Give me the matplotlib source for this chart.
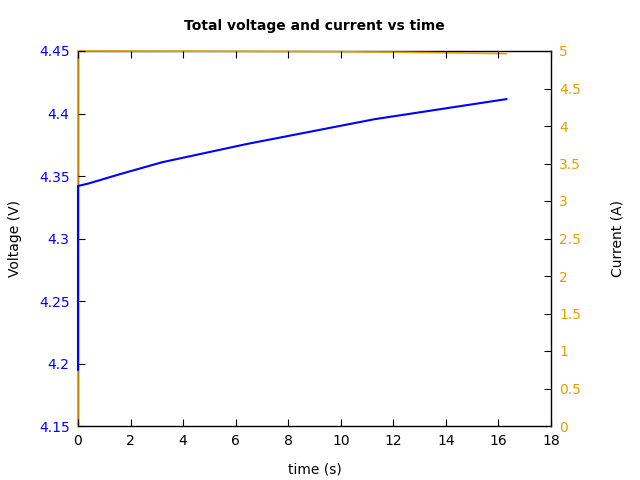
import matplotlib
matplotlib.use('Agg')
import matplotlib.pyplot as plt

# time (s), voltage (V)
t_v = [0.0, 0.0, 0.1, 0.2, 0.4, 0.8, 1.6, 3.2, 6.4, 11.3, 16.3]
volt = [4.195, 4.342, 4.3425, 4.343, 4.344, 4.3465, 4.3515, 4.361, 4.3755, 4.3955, 4.4115]

# time (s), current (A)
t_i = [0.0, 0.0, 4.0, 8.0, 12.0, 16.3]
curr = [0.0, 5.0, 4.998, 4.994, 4.985, 4.965]

blue = '#0000ff'
orange = '#e69f00'

fig = plt.figure(figsize=(6.4, 4.8), dpi=100)
ax = fig.add_axes([78/640, 54/480, 473/640, 375/480])
ax2 = ax.twinx()

ax2.plot(t_i, curr, color=orange, linewidth=1.2, clip_on=False, zorder=3)
ax.plot(t_v, volt, color=blue, linewidth=1.5, clip_on=False, zorder=3)
ax.set_zorder(ax2.get_zorder() + 1)
ax.patch.set_visible(False)

ax.set_xlim(0, 18)
ax.set_ylim(4.15, 4.45)
ax2.set_ylim(0, 5)
ax.set_xticks(range(0, 19, 2))
ax.set_yticks([4.15, 4.2, 4.25, 4.3, 4.35, 4.4, 4.45])
ax.set_yticklabels(['4.15', '4.2', '4.25', '4.3', '4.35', '4.4', '4.45'])
ax2.set_yticks([0, 0.5, 1, 1.5, 2, 2.5, 3, 3.5, 4, 4.5, 5])
ax2.set_yticklabels(['0', '0.5', '1', '1.5', '2', '2.5', '3', '3.5', '4', '4.5', '5'])

ax.tick_params(axis='x', direction='in', top=True, labelsize=10, length=5, pad=6)
ax.tick_params(axis='y', direction='in', labelcolor=blue, labelsize=10, length=5, pad=6)
ax2.tick_params(axis='y', direction='in', labelcolor=orange, labelsize=10, length=5, pad=6)

# border drawn by the lower axes so the curves sit on top of it
for s in ax.spines.values():
    s.set_visible(False)
for s in ax2.spines.values():
    s.set_color('black')
    s.set_linewidth(1.0)

ax.set_title('Total voltage and current vs time', fontsize=10, fontweight='bold', pad=15)
ax.set_xlabel('time (s)', fontsize=10, labelpad=10)
ax.set_ylabel('Voltage (V)', fontsize=10)
ax2.set_ylabel('Current (A)', fontsize=10)
ax.yaxis.set_label_coords(-0.118, 0.5)
ax2.yaxis.set_label_coords(1.125, 0.5)

fig.savefig('out.png', dpi=100)
